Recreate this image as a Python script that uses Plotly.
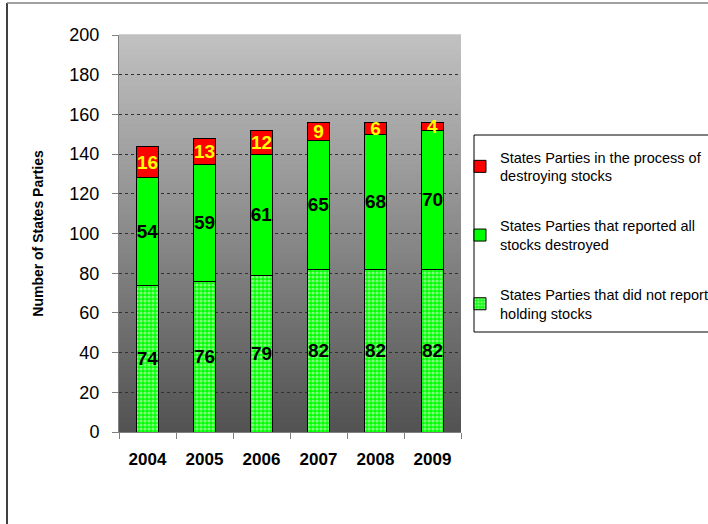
import plotly.graph_objects as go

years = ["2004", "2005", "2006", "2007", "2008", "2009"]
no_stocks = [74, 76, 79, 82, 82, 82]
destroyed = [54, 59, 61, 65, 68, 70]
destroying = [16, 13, 12, 9, 6, 4]

names = [
    "States Parties that did not report<br>holding stocks",
    "States Parties that reported all<br>stocks destroyed",
    "States Parties in the process of<br>destroying stocks",
]

FONT = "Liberation Sans, Arial, sans-serif"
W, H = 708, 524
L, R, T, B = 119, 247, 35, 92
PW, PH = W - L - R, H - T - B

def px_x(x):
    return (x - L) / PW

def px_y(y):
    return (H - B - y) / PH

lbl_font = dict(family=FONT, size=19, color="black", weight="bold")

fig = go.Figure()
fig.add_trace(go.Bar(
    x=years, y=no_stocks, name=names[0], legendgroup="a", legendrank=3,
    marker=dict(color="#00ff00", line=dict(color="black", width=1),
                pattern=dict(shape=".", fgcolor="#ffffff", bgcolor="#00ff00",
                             size=4, solidity=0.5)),
    text=no_stocks, textposition="inside", insidetextanchor="middle",
    textangle=0, constraintext="none", textfont=lbl_font,
))
fig.add_trace(go.Bar(
    x=years, y=destroyed, name=names[1], legendgroup="b", legendrank=2,
    marker=dict(color="#00ff00", line=dict(color="black", width=1)),
    text=destroyed, textposition="inside", insidetextanchor="middle",
    textangle=0, constraintext="none", textfont=lbl_font,
))
fig.add_trace(go.Bar(
    x=years, y=destroying, name=names[2], legendgroup="c", legendrank=1,
    marker=dict(color="#ff0000", line=dict(color="black", width=1)),
    text=destroying, textposition="inside", insidetextanchor="middle",
    textangle=0, constraintext="none",
    textfont=dict(family=FONT, size=19, color="#ffff00", weight="bold"),
))

shapes = []
N = 80
top_c, bot_c = 193, 82
for i in range(N):
    f = (i + 0.5) / N
    c = int(round(bot_c + (top_c - bot_c) * f))
    shapes.append(dict(type="rect", xref="x domain", yref="y domain",
                       x0=0, x1=1, y0=i / N, y1=(i + 1) / N + 0.002,
                       fillcolor=f"rgb({c},{c},{c})", line=dict(width=0),
                       layer="below"))

# outer chart frame
shapes.append(dict(type="line", xref="paper", yref="paper",
                   x0=px_x(7), x1=px_x(7), y0=px_y(3), y1=px_y(530),
                   line=dict(color="black", width=1.5)))
shapes.append(dict(type="line", xref="paper", yref="paper",
                   x0=px_x(7), x1=px_x(720), y0=px_y(3), y1=px_y(3),
                   line=dict(color="#808080", width=1.5)))
# legend box
shapes.append(dict(type="rect", xref="paper", yref="paper",
                   x0=px_x(474), x1=px_x(720), y0=px_y(332), y1=px_y(135),
                   line=dict(color="black", width=1), fillcolor="white",
                   layer="below"))

fig.update_layout(
    width=W, height=H,
    margin=dict(l=L, r=R, t=T, b=B, autoexpand=False),
    paper_bgcolor="white", plot_bgcolor="rgba(0,0,0,0)",
    barmode="stack", bargap=0.6,
    font=dict(family=FONT, color="black"),
    shapes=shapes,
    showlegend=True,
    legend=dict(
        x=px_x(460), y=px_y(141), xanchor="left", yanchor="top",
        bgcolor="rgba(0,0,0,0)", borderwidth=0,
        font=dict(family=FONT, size=14.5, color="black"),
        traceorder="grouped", tracegroupgap=28,
    ),
    xaxis=dict(
        type="category", showgrid=False, tickson="boundaries",
        ticks="outside", ticklen=6, tickcolor="#808080",
        showline=True, linecolor="#808080", linewidth=1,
        tickfont=dict(family=FONT, size=17, weight="bold"),
        ticklabelstandoff=12,
    ),
    yaxis=dict(
        range=[0, 200], dtick=20, tick0=0,
        showgrid=True, gridcolor="#303030", griddash="dot", gridwidth=1,
        ticks="outside", ticklen=6, tickcolor="#808080",
        showline=True, linecolor="#808080", linewidth=1,
        zeroline=False,
        tickfont=dict(family=FONT, size=18),
        ticklabelstandoff=9,
        title=dict(text="Number of States Parties",
                   font=dict(family=FONT, size=14, weight="bold"),
                   standoff=22),
    ),
)

fig.write_html("out.html")
